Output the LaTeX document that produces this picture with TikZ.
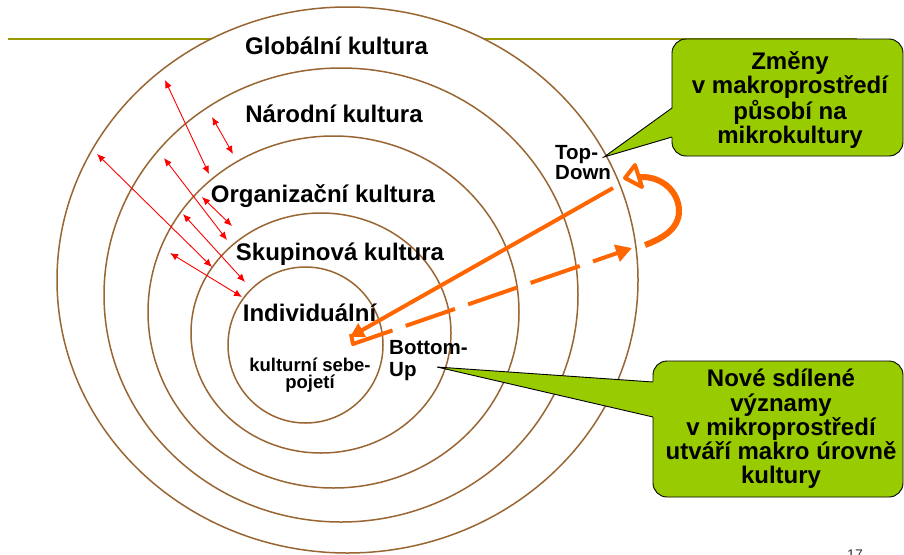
\documentclass[tikz,border=0pt]{standalone}
\usepackage{fontspec}
\setmainfont{Liberation Sans}
\usetikzlibrary{arrows.meta}
\definecolor{ringbrown}{RGB}{153,102,51}
\definecolor{olivebar}{RGB}{153,153,0}
\definecolor{calloutgreen}{RGB}{153,204,0}
\definecolor{arroworange}{RGB}{255,102,0}
\begin{document}
\begin{tikzpicture}[x=1pt,y=-1pt,
  ring/.style={draw=ringbrown, line width=1.5pt, fill=white},
  lbl/.style={font=\bfseries\fontsize{24}{24}\selectfont, inner sep=0pt},
  smalllbl/.style={font=\bfseries\fontsize{18.5}{17.5}\selectfont, inner sep=0pt, align=center},
  dirlbl/.style={font=\bfseries\fontsize{20.5}{20}\selectfont, inner sep=0pt, align=left},
  calltext/.style={font=\bfseries\fontsize{24}{24.2}\selectfont, inner sep=0pt, align=center},
  redarrow/.style={draw=red, line width=0.9pt, {Latex[length=8pt,width=7pt]}-{Latex[length=8pt,width=7pt]}},
  orangesolid/.style={draw=arroworange, line width=4pt, -{Triangle[length=14pt,width=15pt]}},
  orangedash/.style={draw=arroworange, line width=4pt, dash pattern=on 52pt off 14pt, -{Triangle[length=16pt,width=17pt]}},
  callbox/.style={fill=calloutgreen, draw=black, line width=0.9pt, rounded corners=14pt},
  calledge/.style={draw=black, line width=0.9pt}
]
\useasboundingbox (0,0) rectangle (904,554);
\fill[white] (0,0) rectangle (904,554);

% header rule
\coordinate (barL) at (8,39);
\coordinate (barR) at (857,39);
\draw[olivebar, line width=2pt] (barL) -- (barR);

% rings
\draw[ring] (347.5,280) ellipse[x radius=290.5pt, y radius=273pt];
\draw[ring] (341,295) ellipse[x radius=237pt, y radius=227pt];
\draw[ring] (333.5,312) ellipse[x radius=185.5pt, y radius=176pt];
\draw[ring] (321,333) ellipse[x radius=130pt, y radius=120pt];
\draw[ring] (305.5,345) ellipse[x radius=77.5pt, y radius=78pt];

% ring labels
\node[lbl, anchor=base] (glob) at (336.5,54.5) {Globální kultura};
\node[lbl, anchor=base] (nar) at (334,122.5) {Národní kultura};
\node[lbl, anchor=base] (org) at (323,202) {Organizační kultura};
\node[lbl, anchor=base] (skup) at (340,260) {Skupinová kultura};
\node[lbl, anchor=base] (indiv) at (309.5,321) {Individuální};
\node[smalllbl] (self) at (310,375) {kulturní sebe-\\pojetí};

% red double arrows
\coordinate (a1) at (165,80);  \coordinate (a2) at (209,174);
\coordinate (b1) at (212,117); \coordinate (b2) at (233,154);
\coordinate (c1) at (97,154);  \coordinate (c2) at (212,267);
\coordinate (d1) at (164,158); \coordinate (d2) at (227,240);
\coordinate (e1) at (202,197); \coordinate (e2) at (232,226);
\coordinate (f1) at (183,214); \coordinate (f2) at (245,282);
\coordinate (g1) at (170,253); \coordinate (g2) at (242,297);
\draw[redarrow] (a1) -- (a2);
\draw[redarrow] (b1) -- (b2);
\draw[redarrow] (c1) -- (c2);
\draw[redarrow] (d1) -- (d2);
\draw[redarrow] (e1) -- (e2);
\draw[redarrow] (f1) -- (f2);
\draw[redarrow] (g1) -- (g2);

% orange arrows
\coordinate (solidstart) at (613,188);
\coordinate (solidend) at (350,337);
\draw[orangesolid] (solidstart) -- (solidend);
\coordinate (hooktop) at (351,334);
\coordinate (hookcorner) at (353,344);
\coordinate (dashend) at (632,248);
\draw[orangedash, line join=round] (hooktop) -- (hookcorner) -- (dashend);
\coordinate (loopstart) at (645,245);
\coordinate (loopend) at (640,177);
\draw[draw=arroworange, line width=6pt] (loopstart) .. controls (664,238) and (679,228) .. (679,211) .. controls (679,192) and (662,176) .. (loopend);
\coordinate (tipA) at (625,178);
\coordinate (tipB) at (635,165);
\coordinate (tipC) at (642,187);
\draw[draw=arroworange, fill=white, line width=4pt, line join=round] (tipA) -- (tipB) -- (tipC) -- cycle;

% direction labels
\node[dirlbl, anchor=west] (topdown) at (555,163) {Top-\\Down};
\node[dirlbl, anchor=west, font=\bfseries\fontsize{20.5}{22}\selectfont] (bottomup) at (389,361) {Bottom-\\Up};

% callout 1
\draw[callbox] (672,39) rectangle (903,156);
\coordinate (tdtip) at (604,157);
\fill[calloutgreen] (673,108) -- (tdtip) -- (673,137) -- cycle;
\draw[calledge] (672,108) -- (tdtip) -- (672,137);
\node[calltext] (c1text) at (790,100) {Změny\\v makroprostředí\\působí na\\mikrokultury};

% callout 2
\draw[callbox] (653,361) rectangle (903,497);
\coordinate (butip) at (437,367);
\fill[calloutgreen] (654,382) -- (butip) -- (654,417) -- cycle;
\draw[calledge] (653,382) -- (butip) -- (653,417);
\node[calltext] (c2text) at (781,429) {Nové sdílené\\významy\\v mikroprostředí\\utváří makro úrovně\\kultury};

% page number (cut off, as in the reference)
\node[font=\fontsize{14}{14}\selectfont, anchor=north, text=black!80, inner sep=0pt] (pagenum) at (855,550) {17};
\end{tikzpicture}
\end{document}
